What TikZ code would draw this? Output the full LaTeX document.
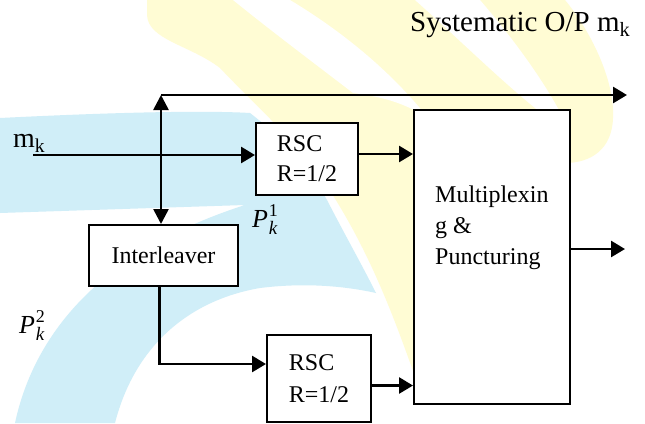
\documentclass[tikz,border=0pt]{standalone}
\usepackage{fontspec}
\setmainfont{Liberation Serif}
\usetikzlibrary{arrows.meta}
\definecolor{wmcyan}{RGB}{208,238,248}
\definecolor{wmyellow}{RGB}{255,252,212}
\newcommand{\myPk}[1]{{\itshape P}\kern0.8pt\makebox[0pt][l]{\raisebox{0.4em}{\fontsize{18}{18}\selectfont #1}}\raisebox{-0.28em}{\fontsize{19}{19}\selectfont\itshape k}}
\begin{document}
\begin{tikzpicture}[x=1pt,y=-1pt,
  box/.style={draw,line width=2pt,fill=white,inner sep=0pt},
  conn/.style={line width=2.6pt,-{Triangle[length=14pt,width=16pt]}},
  dconn/.style={line width=2.6pt,{Triangle[length=15pt,width=15pt]}-{Triangle[length=15pt,width=15pt]}},
  boxfont/.style={font=\fontsize{24}{30}\selectfont},
  lbl/.style={inner sep=0pt}]
\useasboundingbox (0,0) rectangle (645,423);
\fill[white] (0,0) rectangle (645,423);
% watermark
\begin{scope}
\clip (0,0) rectangle (645,423);
\fill[wmyellow] (147,0) -- (565,0) .. controls (590,30) and (615,80) .. (613,118)
  .. controls (612,150) and (590,163) .. (565,163) -- (500,250) -- (418,385)
  .. controls (395,320) and (370,250) .. (323,180)
  .. controls (290,135) and (250,100) .. (220,68)
  .. controls (190,45) and (148,40) .. (147,15) -- cycle;
\fill[white] (233,0) -- (290,0) .. controls (340,30) and (390,70) .. (428,118)
  .. controls (400,100) and (375,96) .. (353,93)
  .. controls (310,60) and (270,30) .. (233,0) -- cycle;
\fill[white] (415,0) -- (480,0) .. controls (510,35) and (540,75) .. (560,112)
  -- (540,112) .. controls (500,80) and (460,40) .. (415,0) -- cycle;
\fill[wmcyan] (0,118) .. controls (100,113) and (200,110) .. (250,113)
  .. controls (285,140) and (310,170) .. (327,200)
  .. controls (345,235) and (362,265) .. (376,293)
  .. controls (340,285) and (300,283) .. (260,288)
  .. controls (190,300) and (135,345) .. (115,423)
  -- (15,423) .. controls (35,330) and (105,250) .. (245,205)
  -- (0,213) -- cycle;
\end{scope}
% blocks
\node[box,boxfont,minimum width=102pt,minimum height=72pt,align=left] (rsc1) at (307,159) {RSC\\R=1/2};
\node[box,font=\fontsize{24}{32}\selectfont,minimum width=104pt,minimum height=87pt,align=left] (rsc2) at (319,378.5) {RSC\\R=1/2};
\node[box,boxfont,minimum width=149pt,minimum height=61pt] (inter) at (163.5,255.5) {Interleaver};
\node[box,minimum width=156pt,minimum height=294pt] (mux) at (492,257) {};
\node[lbl,anchor=north west,align=left,font=\fontsize{24}{31}\selectfont] (muxtext) at (435,185.5) {Multiplexin\\g \&\\Puncturing};
% labels
\node[lbl,anchor=base west,font=\fontsize{29}{34}\selectfont] (sys) at (410,31) {Systematic O/P m\textsubscript{k}};
\node[lbl,anchor=base west,font=\fontsize{28}{34}\selectfont] (mk) at (13,147) {m\textsubscript{k}};
\node[lbl,anchor=base west,font=\fontsize{26}{28}\selectfont] (p1) at (252,227) {\myPk{1}};
\node[lbl,anchor=base west,font=\fontsize{26}{28}\selectfont] (p2) at (19,333) {\myPk{2}};
% connection points
\coordinate (mkstart) at (33,155);
\coordinate (split) at (161,95);
\coordinate (sysend) at (627,95);
\coordinate (bend) at (159.5,364);
\coordinate (muxout) at (625,249);
% connectors
\draw[conn] (mkstart) -- (mkstart -| rsc1.west);
\draw[dconn] (split) -- (split |- inter.north);
\draw[conn] (split) -- (sysend);
\draw[conn] ([yshift=5pt]rsc1.east) -- ([yshift=5pt]rsc1.east -| mux.west);
\draw[conn] (mux.east |- muxout) -- (muxout);
\draw[conn] (inter.south -| bend) -- (bend) -- (bend -| rsc2.west);
\draw[conn] ([yshift=-7pt]rsc2.east) -- ([yshift=-7pt]rsc2.east -| mux.west);
\end{tikzpicture}
\end{document}
